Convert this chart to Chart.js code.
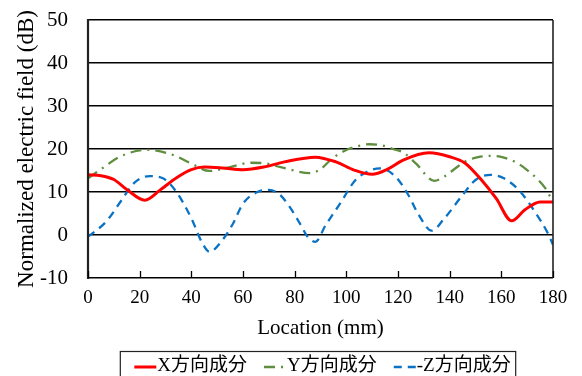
<!DOCTYPE html>
<html>
<head>
<meta charset="utf-8">
<script src="https://cdn.jsdelivr.net/npm/chart.js@4/dist/chart.umd.min.js"></script>
<style>
  html, body { margin: 0; padding: 0; background: #fff; }
  #wrap { width: 582px; height: 376px; position: relative; }
</style>
</head>
<body>
<div id="wrap"><canvas id="c" width="582" height="376"></canvas></div>
<script>
// ---- data ----
const seriesLabels = ['X方向成分', 'Y方向成分', 'Z方向成分'];

const xLocX = [0, 5, 10, 15, 22, 28, 34, 40, 45, 52, 60, 68, 76, 88, 96, 103, 110, 116, 122, 132, 140, 146, 152, 158, 164, 169, 175, 180];
const fieldX = [14.0, 13.8, 12.9, 10.6, 8.1, 10.5, 13.2, 15.2, 15.8, 15.6, 15.2, 15.8, 17.0, 18.1, 17.0, 15.1, 14.1, 15.3, 17.4, 19.1, 18.2, 16.7, 13.0, 8.5, 3.3, 5.8, 7.7, 7.7];

const xLocY = [0, 5, 13, 23, 33, 40, 47, 55, 63, 68, 75, 86, 90, 94, 99, 104, 109, 114, 118, 122, 127, 134, 138, 142, 146, 151, 156, 161, 166, 170, 174, 177, 180];
const fieldY = [13.2, 15.3, 18.4, 19.8, 18.6, 16.6, 14.9, 15.8, 16.8, 16.7, 15.7, 14.4, 15.3, 17.5, 19.5, 20.6, 21.1, 20.8, 20.0, 19.2, 16.6, 12.6, 13.6, 15.4, 17.1, 18.1, 18.4, 18.0, 16.8, 15.1, 13.0, 10.9, 7.7];

const xLocZ = [0, 7, 13, 18, 24, 29, 34, 40, 44, 47, 52, 56, 60, 66, 70, 74, 78, 82, 85, 88, 92, 98, 103, 108, 113, 119, 124, 128, 133, 138, 145, 150, 156, 161, 167, 173, 178, 180];
const fieldZ = [-0.4, 3.1, 8.1, 12.2, 13.7, 13.2, 10.2, 3.9, -1.6, -3.9, -1.2, 2.5, 7.3, 10.1, 10.5, 9.5, 6.6, 2.7, -0.4, -1.6, 2.3, 7.7, 12.4, 14.7, 15.5, 13.6, 9.3, 4.7, 1.0, 3.9, 9.3, 12.8, 14.0, 13.2, 10.3, 5.4, 0.4, -2.3];

const xTickValues = [0, 20, 40, 60, 80, 100, 120, 140, 160, 180];
const yTickValues = [-10, 0, 10, 20, 30, 40, 50];

const xTitle = 'Location (mm)';
const yTitle = 'Normalized electric field (dB)';

// ---- helpers ----
const pts = (xs, ys) => xs.map((x, i) => ({ x: x, y: ys[i] }));
const SERIF = '"Liberation Serif", "Times New Roman", "Noto Sans CJK JP", serif';

const frameAndLegend = {
  id: 'frameAndLegend',
  afterDraw(chart) {
    const ctx = chart.ctx;
    const a = chart.chartArea;
    const xs = chart.scales.x;
    ctx.save();
    // plot frame
    ctx.strokeStyle = '#222';
    ctx.lineWidth = 1.6;
    ctx.beginPath();
    ctx.moveTo(a.right, a.top); ctx.lineTo(a.right, a.bottom);
    ctx.stroke();
    ctx.lineWidth = 2.2;
    ctx.beginPath();
    ctx.moveTo(a.left, a.top - 1); ctx.lineTo(a.left, a.bottom + 1);
    ctx.stroke();
    // inward tick marks on x axis
    ctx.lineWidth = 1.3;
    ctx.strokeStyle = '#000';
    ctx.beginPath();
    xs.ticks.forEach(t => {
      const px = Math.round(xs.getPixelForValue(t.value)) + 0.5;
      ctx.moveTo(px, a.bottom);
      ctx.lineTo(px, a.bottom - 7);
    });
    ctx.stroke();

    // boxed legend
    ctx.font = '19px ' + SERIF;
    const sampleW = 22, gap = 17, textGap = 1;
    const items = chart.data.datasets.map(ds => ({
      ds: ds,
      label: ds.legendText,
      w: sampleW + textGap + ctx.measureText(ds.legendText).width
    }));
    const total = items.reduce((s, it) => s + it.w, 0) + gap * (items.length - 1);
    const cx = (a.left + a.right) / 2 + 2;
    let x = cx - total / 2;
    const boxL = x - 14, boxR = x + total + 5;
    const yMid = 366;
    ctx.strokeStyle = '#222';
    ctx.lineWidth = 1.2;
    ctx.strokeRect(boxL, 351.5, boxR - boxL, 40);
    items.forEach(it => {
      ctx.save();
      ctx.strokeStyle = it.ds.borderColor;
      ctx.lineWidth = it.ds.borderWidth;
      ctx.setLineDash(it.ds.borderDash || []);
      ctx.beginPath();
      ctx.moveTo(x, yMid + 1);
      ctx.lineTo(x + sampleW, yMid + 1);
      ctx.stroke();
      ctx.restore();
      ctx.fillStyle = '#000';
      ctx.textBaseline = 'middle';
      ctx.textAlign = 'left';
      ctx.fillText(it.label, x + sampleW + textGap, yMid);
      x += it.w + gap;
    });
    ctx.restore();
  }
};

new Chart(document.getElementById('c'), {
  type: 'line',
  data: {
    datasets: [
      {
        label: seriesLabels[0], legendText: seriesLabels[0],
        data: pts(xLocX, fieldX),
        borderColor: '#ff0000', borderWidth: 3, borderDash: [],
        pointRadius: 0, cubicInterpolationMode: 'monotone', fill: false
      },
      {
        label: seriesLabels[1], legendText: seriesLabels[1],
        data: pts(xLocY, fieldY),
        borderColor: '#5e8e3e', borderWidth: 2.3, borderDash: [11, 6, 2, 6],
        pointRadius: 0, cubicInterpolationMode: 'monotone', fill: false
      },
      {
        label: seriesLabels[2], legendText: '-' + seriesLabels[2],
        data: pts(xLocZ, fieldZ),
        borderColor: '#0a72c4', borderWidth: 2.3, borderDash: [8, 6],
        pointRadius: 0, cubicInterpolationMode: 'monotone', fill: false
      }
    ]
  },
  options: {
    responsive: false,
    animation: false,
    events: [],
    layout: { autoPadding: false, padding: { left: 0, right: 29, top: 20, bottom: 31 } },
    plugins: { legend: { display: false }, tooltip: { enabled: false } },
    scales: {
      x: {
        type: 'linear', min: 0, max: 180,
        afterBuildTicks: s => { s.ticks = xTickValues.map(v => ({ value: v })); },
        afterFit: s => { s.height = 67; s.paddingLeft = 0; s.paddingRight = 0; },
        grid: { display: false, drawTicks: false },
        border: { display: false },
        ticks: { color: '#000', padding: 9, maxRotation: 0, font: { family: SERIF, size: 19 } },
        title: { display: true, text: xTitle, color: '#000', padding: { top: 0, bottom: 4 }, font: { family: SERIF, size: 21 } }
      },
      y: {
        type: 'linear', min: -10, max: 50,
        afterBuildTicks: s => { s.ticks = yTickValues.map(v => ({ value: v })); },
        afterFit: s => { s.width = 88; s.paddingTop = 0; s.paddingBottom = 0; },
        grid: { color: '#000', lineWidth: 1.5, drawTicks: false },
        border: { display: false },
        ticks: { color: '#000', padding: 20, font: { family: SERIF, size: 21 } },
        title: { display: true, text: yTitle, color: '#000', padding: { top: 13, bottom: 0 }, font: { family: SERIF, size: 23 } }
      }
    }
  },
  plugins: [frameAndLegend]
});
</script>
</body>
</html>
